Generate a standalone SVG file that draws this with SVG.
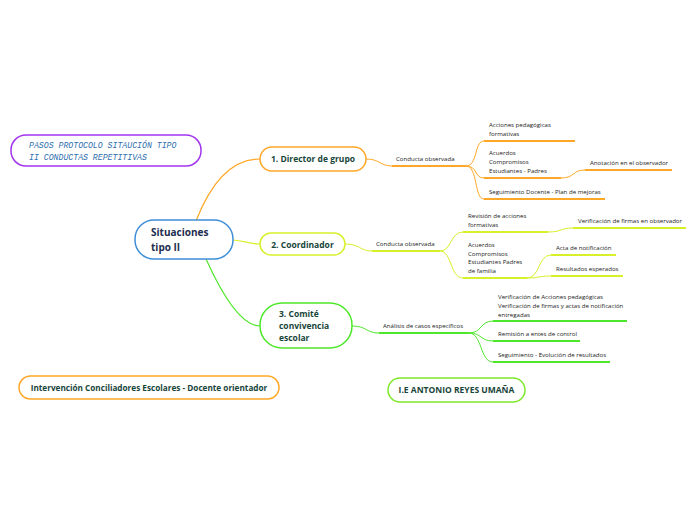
<svg xmlns="http://www.w3.org/2000/svg" width="696" height="520" viewBox="0 0 696 520">
<style>
.box{fill:#fff;stroke-width:1.5}
.tb{font-family:"Open Sans","Noto Sans",sans-serif;font-weight:bold;fill:#17453a;font-size:8.5px}
.ts{font-family:"Open Sans","Noto Sans",sans-serif;fill:#222;font-size:6.1px}
.o{stroke:#ffa726;fill:none}
.y{stroke:#d8f02a;fill:none}
.g{stroke:#4ee82a;fill:none}
.thin{stroke-width:1}
.ul{stroke-width:1.8}
</style>
<rect width="696" height="520" fill="#fff"/>
<g id="connectors">
<path class="o" stroke-width="1.2" d="M196,221 C210,185 230,159 260,159"/>
<path class="y" stroke-width="1.2" d="M233,240 C245,241 250,244 260,244"/>
<path class="g" stroke-width="1.2" d="M206,259 C220,290 240,326 260,326"/>
<path class="o thin" d="M366,159 C380,159 380,166 392,166"/>
<path class="o ul" d="M392,166 H466"/>
<path class="o thin" d="M466,166 C478,166 474,141 484,141 M466,166 C478,166 474,178 484,178 M466,166 C478,166 474,199 484,199"/>
<path class="o ul" d="M484,141 H575 M484,178 H561 M484,199 H605 M585,170 H672"/>
<path class="o thin" d="M561,178 C575,178 572,170 585,170"/>
<path class="y thin" d="M345,244 C360,244 360,251 372,251"/>
<path class="y ul" d="M372,251 H440"/>
<path class="y thin" d="M440,251 C452,251 450,232 463,232 M440,251 C452,251 450,278 463,278"/>
<path class="y ul" d="M463,232 H548 M463,278 H527 M573,228 H686 M551,255 H616 M551,276 H623"/>
<path class="y thin" d="M548,232 C562,232 560,228 573,228 M527,278 C540,278 538,255 551,255 M527,278 C540,278 538,276 551,276"/>
<path class="g thin" d="M352,326 C367,326 366,333 379,333"/>
<path class="g ul" d="M379,333 H469"/>
<path class="g thin" d="M469,333 C482,333 480,321 493,321 M469,333 C482,333 480,341 493,341 M469,333 C482,333 480,362 493,362"/>
<path class="g ul" d="M493,321 H627 M493,341 H580 M493,362 H610"/>
</g>
<g id="title-note">
<rect x="11" y="135" width="190" height="31" rx="15" fill="#fff" stroke="#a335ee" stroke-width="1.5"/>
<text font-family="'Liberation Mono',monospace" font-style="italic" font-size="8.2" fill="#2f6fae"><tspan x="29" y="148">PASOS PROTOCOLO SITAUCIÓN TIPO</tspan><tspan x="29" y="160">II CONDUCTAS REPETITIVAS</tspan></text>
</g>
<g id="central">
<rect class="box" x="135" y="220" width="98" height="39" rx="19" stroke="#3f8ed8"/>
<text class="tb" style="fill:#1c2d4f;font-size:10px"><tspan x="151" y="236">Situaciones</tspan><tspan x="151" y="251">tipo II</tspan></text>
</g>
<g id="node1">
<rect class="box" x="260" y="147" width="106" height="24" rx="12" stroke="#ffa726"/>
<text class="tb" x="313" y="162" text-anchor="middle">1. Director de grupo</text>
</g>
<g id="n1-conducta"><text class="ts" x="396" y="161">Conducta observada</text></g>
<g id="n1-acciones"><text class="ts"><tspan x="489" y="127">Acciones pedagógicas</tspan><tspan x="489" y="136">formativas</tspan></text></g>
<g id="n1-acuerdos"><text class="ts"><tspan x="489" y="155">Acuerdos</tspan><tspan x="489" y="164">Compromisos</tspan><tspan x="489" y="173">Estudiantes - Padres</tspan></text></g>
<g id="n1-anotacion"><text class="ts" x="590" y="165">Anotación en el observador</text></g>
<g id="n1-seguimiento"><text class="ts" x="489" y="194">Seguimiento Docente - Plan de mejoras</text></g>
<g id="node2">
<rect class="box" x="260" y="233" width="85" height="22" rx="11" stroke="#d8f02a"/>
<text class="tb" x="302.5" y="248" text-anchor="middle">2. Coordinador</text>
</g>
<g id="n2-conducta"><text class="ts" x="376" y="246">Conducta observada</text></g>
<g id="n2-revision"><text class="ts"><tspan x="468" y="218">Revisión de acciones</tspan><tspan x="468" y="227">formativas</tspan></text></g>
<g id="n2-verificacion"><text class="ts" x="578" y="223">Verificación de firmas en observador</text></g>
<g id="n2-acuerdos"><text class="ts"><tspan x="468" y="247">Acuerdos</tspan><tspan x="468" y="255.5">Compromisos</tspan><tspan x="468" y="264">Estudiantes Padres</tspan><tspan x="468" y="272.5">de familia</tspan></text></g>
<g id="n2-acta"><text class="ts" x="556" y="250">Acta de notificación</text></g>
<g id="n2-resultados"><text class="ts" x="556" y="271">Resultados esperados</text></g>
<g id="node3">
<rect class="box" x="260" y="303" width="92" height="45" rx="22" stroke="#4ee82a"/>
<text class="tb"><tspan x="279" y="317">3. Comité</tspan><tspan x="279" y="329">convivencia</tspan><tspan x="279" y="341">escolar</tspan></text>
</g>
<g id="n3-analisis"><text class="ts" x="383" y="328">Análisis de casos específicos</text></g>
<g id="n3-verificacion"><text class="ts"><tspan x="498" y="299">Verificación de Acciones pedagógicas</tspan><tspan x="498" y="308">Verificación de firmas y actas de notificación</tspan><tspan x="498" y="317">entregadas</tspan></text></g>
<g id="n3-remision"><text class="ts" x="498" y="336">Remisión a entes de control</text></g>
<g id="n3-seguimiento"><text class="ts" x="498" y="357">Seguimiento - Evolución de resultados</text></g>
<g id="intervencion">
<rect class="box" x="19" y="376" width="260" height="23" rx="11.5" stroke="#ffa726"/>
<text class="tb" x="149" y="391" text-anchor="middle" style="font-size:8.2px">Intervención Conciliadores Escolares - Docente orientador</text>
</g>
<g id="ie">
<rect class="box" x="388" y="378" width="137" height="24" rx="12" stroke="#7ee82a"/>
<text class="tb" x="456.5" y="393" text-anchor="middle">I.E ANTONIO REYES UMAÑA</text>
</g>
</svg>
